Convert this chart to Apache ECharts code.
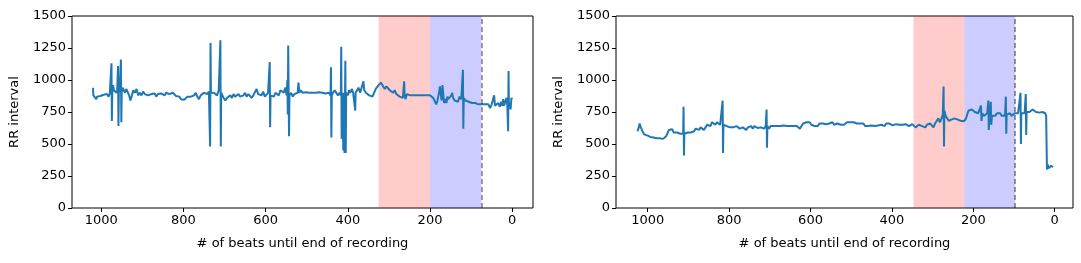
<!DOCTYPE html>
<html><head><meta charset="utf-8">
<script src="https://cdn.jsdelivr.net/npm/echarts@6/dist/echarts.min.js"></script>
<style>html,body{margin:0;padding:0;background:#fff}#c{width:1081px;height:263px}</style>
</head><body><div id="c"></div>
<script>
const xTicks = [0, 200, 400, 600, 800, 1000];
const yTicks = [0, 250, 500, 750, 1000, 1250, 1500];
const xLabel = '# of beats until end of recording';
const yLabel = 'RR interval';

// left panel: shaded windows [red start, blue start, dashed end]
const leftWindows = [325, 200, 75];
const rightWindows = [347, 222, 97];

const leftSeries = [
[1020,940],[1019,880],[1016,865],[1012,850],[1010,870],[1006,860],[1002,875],[998,870],[994,885],[990,880],[986,890],[982,870],[979,895],[977,880],
[976,900],[975,1130],[974,680],[973,900],[971,960],[969,920],[966,935],[963,900],[961,920],
[959,1110],[958,640],[957,900],[955,930],
[952,1160],[951,670],[950,910],[948,940],[945,920],[942,900],[939,930],[936,920],[932,880],[929,840],[926,870],[922,920],[918,900],[914,930],[910,880],[906,900],[902,880],[898,910],[894,890],[890,900],[886,880],[882,895],[878,890],[874,880],[870,895],[866,870],[862,890],[858,875],[854,895],[850,890],[846,880],[842,900],[838,885],[834,890],[830,880],[826,900],[822,885],[818,875],[814,880],[810,870],[806,850],[802,860],[798,845],[794,860],[790,870],[786,855],[782,870],[778,860],[774,880],[770,900],[766,870],[762,850],[758,880],[754,870],[750,900],[746,905],[742,890],[738,910],
[736,920],[735,480],[734,1290],[733,900],[730,890],[726,900],[722,910],[718,880],[714,920],
[711,930],[710,1310],[709,480],[708,900],[705,880],[702,860],[698,840],[694,860],[690,870],[686,880],[682,860],[678,890],[674,870],[670,880],[666,890],[662,870],[658,880],[654,880],[650,900],[646,870],[642,890],[638,890],[634,860],[630,880],[626,890],[622,930],[618,890],[614,900],[610,880],[606,910],[602,870],[598,880],[594,900],
[591,890],[590,1140],[589,630],[588,880],[584,890],[580,870],[576,900],[572,910],[568,880],[564,920],[560,930],[556,900],[552,940],[549,880],[547,1000],
[546,730],[545,1270],[544,1260],[543,560],[542,880],[538,900],[534,870],[530,890],[526,880],[522,900],[520,980],[518,900],[514,920],[510,900],[506,910],[502,905],[498,900],[494,900],[490,905],[486,900],[482,895],[478,900],[474,890],[470,905],[466,895],[462,900],[458,890],[454,895],[450,880],[446,900],
[442,880],[441,1100],[440,550],[439,880],[436,900],[432,920],[428,910],[424,880],[420,900],
[417,880],[416,1260],[415,540],[413,900],[411,450],[410,900],[408,430],[406,1150],[405,430],[404,900],[400,880],[397,920],[394,900],[390,930],[387,900],[384,910],
[382,760],[381,900],[378,910],[374,940],[370,900],[366,910],[362,990],[360,920],[356,900],[352,910],[348,880],[344,890],[340,870],[336,880],[332,930],[328,920],[325,960],[322,950],[319,980],[316,960],[313,970],[310,930],[306,950],[302,940],[298,920],[294,930],[290,900],[286,920],[282,890],[278,900],[274,870],[270,880],[266,860],[263,990],[262,900],[260,850],[256,890],[252,900],[248,880],[244,890],[240,880],[236,870],[232,880],[228,870],[224,880],[220,870],[216,880],[212,870],[208,880],[204,875],[200,880],[196,870],[192,860],[188,830],[185,810],[182,840],[180,870],[178,900],[176,950],[174,900],[172,840],[170,960],[168,900],[166,820],[164,810],[162,850],[160,820],[158,870],[156,850],[152,860],[148,880],[146,900],[144,860],[140,840],[136,850],[132,830],[128,870],[124,850],
[121,850],[120,1080],[119,620],[118,860],[114,840],[110,840],[106,830],[102,830],[98,820],[94,830],[90,820],[86,810],[82,810],[78,800],[74,810],[70,805],[66,810],[62,800],[58,810],[54,780],[50,810],[46,800],[44,880],[42,800],[38,810],[34,820],[30,790],[27,830],[24,800],[22,850],[20,800],[17,830],[14,860],[12,800],[10,600],[9,1070],[8,780],[6,820],[4,770],[2,860],[0,850]
];

const rightSeries = [
[1025,600],[1022,630],[1020,660],[1017,630],[1013,600],[1009,575],[1005,560],[1000,565],[994,555],[990,560],[986,550],[982,555],[978,545],[974,555],[970,545],[966,550],[962,540],[958,545],[955,560],[952,580],[948,610],[944,600],[940,615],[936,590],[932,605],[928,590],[924,600],[920,580],[916,590],[913,580],[912,790],[911,410],[910,580],[906,570],[902,590],[898,580],[894,590],[890,580],[886,600],[882,620],[878,630],[874,610],[870,630],[866,620],[862,610],[858,630],[854,650],[850,660],[846,640],[842,670],[838,660],[834,650],[830,670],[826,660],[822,650],[818,660],[816,840],[815,430],[814,650],[810,660],[806,640],[802,650],[798,630],[794,640],[790,630],[786,620],[782,640],[778,630],[774,620],[770,610],[766,630],[762,625],[758,610],[754,630],[750,615],[746,640],[742,620],[738,640],[734,630],[730,625],[726,640],[722,630],[718,640],[714,620],[710,640],[708,770],[707,470],[706,640],[702,620],[698,640],[694,630],[690,640],[686,630],[682,640],[678,625],[674,640],[670,635],[666,645],[662,630],[658,640],[654,630],[650,640],[646,635],[642,640],[638,630],[634,640],[630,635],[626,620],[622,640],[618,660],[614,650],[610,670],[606,660],[602,670],[598,650],[594,660],[590,640],[586,650],[582,640],[578,660],[574,650],[570,660],[566,650],[562,655],[558,650],[554,660],[550,660],[546,670],[542,650],[538,665],[534,660],[530,670],[526,650],[522,660],[518,650],[514,660],[510,670],[506,680],[502,670],[498,660],[494,670],[490,660],[486,660],[482,650],[478,660],[474,645],[470,660],[466,640],[462,650],[458,640],[454,650],[450,645],[446,655],[442,640],[438,650],[434,645],[430,640],[426,650],[422,655],[418,640],[414,660],[410,650],[406,660],[402,650],[398,645],[394,660],[390,655],[386,650],[382,650],[378,645],[374,650],[370,640],[366,655],[362,660],[358,640],[354,650],[350,655],[346,640],[342,630],[338,620],[334,650],[330,660],[326,640],[322,650],[318,630],[314,650],[310,640],[306,660],[302,650],[298,630],[294,660],[290,680],[286,700],[282,670],[278,700],[275,730],[273,950],[272,480],[271,760],[268,720],[264,700],[260,680],[257,670],[254,690],[250,680],[246,700],[242,710],[238,690],[234,700],[230,680],[226,690],[222,680],[218,700],[215,730],[212,760],[208,750],[204,770],[200,760],[196,750],[192,760],[188,740],[184,750],[181,800],[180,680],[178,740],[174,720],[170,730],[166,740],[163,840],[162,610],[160,720],[157,830],[156,650],[154,720],[150,730],[146,720],[142,740],[138,730],[134,740],[130,720],[126,730],[122,720],[120,870],[119,580],[118,730],[114,720],[110,740],[106,720],[102,730],[98,740],[94,730],[90,740],[86,750],[84,900],[83,500],[82,740],[78,750],[74,740],[71,890],[70,570],[69,750],[66,740],[62,750],[58,760],[54,770],[50,760],[46,750],[42,755],[38,745],[34,760],[30,750],[26,755],[23,740],[21,720],[19,300],[17,340],[15,310],[13,320],[11,300],[9,330],[7,320],[5,340],[4,320]
];

const FONT = 'DejaVu Sans';
const plain = v => String(v);
function makeX(idx, min, max) {
  return {
    type: 'value', gridIndex: idx, inverse: true, min: min, max: max,
    name: xLabel, nameLocation: 'middle', nameGap: 29,
    nameTextStyle: { fontFamily: FONT, fontSize: 13, color: '#000' },
    axisLine: { show: false, onZero: false },
    axisTick: { show: true, length: 4, inside: false, customValues: xTicks, lineStyle: { color: '#000', width: 1 } },
    axisLabel: { customValues: xTicks, formatter: plain, fontFamily: FONT, fontSize: 13, color: '#000', margin: 6 },
    splitLine: { show: false }
  };
}
function makeY(idx) {
  return {
    type: 'value', gridIndex: idx, min: 0, max: 1500, interval: 250,
    name: yLabel, nameLocation: 'middle', nameGap: 51,
    nameTextStyle: { fontFamily: FONT, fontSize: 13, color: '#000' },
    axisLine: { show: false, onZero: false },
    axisTick: { show: true, length: 4, lineStyle: { color: '#000', width: 1 } },
    axisLabel: { formatter: plain, fontFamily: FONT, fontSize: 13, color: '#000', margin: 6 },
    splitLine: { show: false }
  };
}
function makeSeries(idx, data, w) {
  return {
    type: 'line', xAxisIndex: idx, yAxisIndex: idx, data: data,
    showSymbol: false, symbol: 'none', animation: false,
    lineStyle: { color: '#1f77b4', width: 2 },
    markArea: {
      silent: true,
      data: [
        [{ xAxis: w[0], itemStyle: { color: 'rgba(255,0,0,0.2)' } }, { xAxis: w[1] }],
        [{ xAxis: w[1], itemStyle: { color: 'rgba(0,0,255,0.2)' } }, { xAxis: w[2] }]
      ]
    },
    markLine: {
      silent: true, symbol: 'none', label: { show: false },
      lineStyle: { color: 'rgba(0,0,0,0.5)', type: [5, 3], width: 1.5 },
      data: [{ xAxis: w[2] }]
    }
  };
}
const chart = echarts.init(document.getElementById('c'), null, { renderer: 'canvas' });
chart.setOption({
  backgroundColor: '#fff',
  animation: false,
  grid: [
    { left: 72, top: 16, width: 461, height: 192, show: true, borderColor: '#000', borderWidth: 1, backgroundColor: 'transparent' },
    { left: 616, top: 16, width: 457, height: 192, show: true, borderColor: '#000', borderWidth: 1, backgroundColor: 'transparent' }
  ],
  xAxis: [makeX(0, -50.5, 1071), makeX(1, -45, 1078)],
  yAxis: [makeY(0), makeY(1)],
  series: [makeSeries(0, leftSeries, leftWindows), makeSeries(1, rightSeries, rightWindows)]
});
</script></body></html>
